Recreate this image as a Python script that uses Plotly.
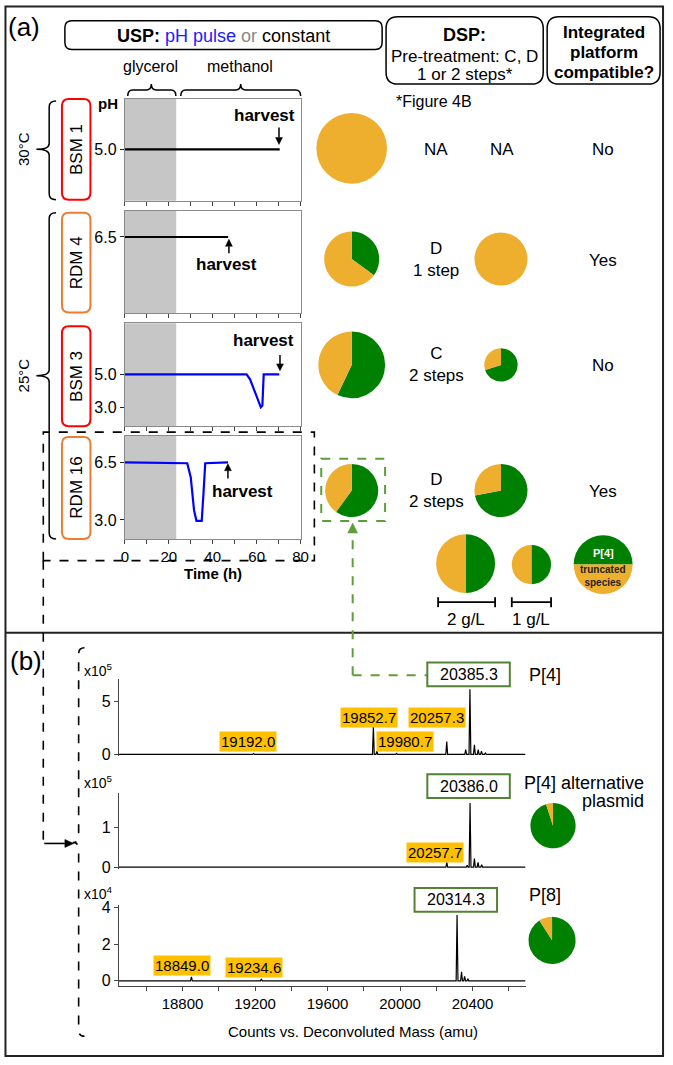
import math
import plotly.graph_objects as go

W, H = 673, 1065
FONT = "Liberation Sans, Arial, sans-serif"
ORANGE = "#EEAE2E"
GREEN = "#008000"
LABEL_OR = "#FFC000"
BOXGREEN = "#548235"
DASHGREEN = "#5E9E3A"

# ---------------- data ----------------
# pH profiles (time h, pH)
t_bsm1 = [0, 70.5]
ph_bsm1 = [5.0, 5.0]
t_rdm4 = [0, 47]
ph_rdm4 = [6.5, 6.5]
t_bsm3 = [0, 55.4, 57, 58.5, 60, 61.3, 61.9, 62.6, 63.2, 70.3]
ph_bsm3 = [5.0, 5.0, 4.7, 4.2, 3.7, 3.3, 3.0, 3.1, 5.0, 5.0]
t_rdm16 = [0, 28.4, 30, 31.5, 32.6, 35.0, 35.8, 36.6, 47]
ph_rdm16 = [6.5, 6.45, 5.6, 3.6, 2.95, 2.95, 4.6, 6.45, 6.5]
glycerol_end = 23.4

strains = ["BSM 1", "RDM 4", "BSM 3", "RDM 16"]
ph_ticks = [[5.0], [6.5], [5.0, 3.0], [6.5, 3.0]]
pretreat = ["NA", "D<br>1 step", "C<br>2 steps", "D<br>2 steps"]
compatible = ["No", "Yes", "No", "Yes"]
# pie: % P[4] (green) vs truncated (orange); size ~ titre
usp_green = [0, 35, 57, 60]
usp_radius = [36, 28, 34, 27]
dsp_green = [None, 0, 70, 72]
dsp_radius = [None, 27, 17, 27]

# deconvoluted mass spectra (amu, counts)
p4_mass = [19192.0, 19852.7, 19872, 19980.7, 20257.3, 20362, 20385.3, 20410, 20431, 20449, 20470]
p4_int = [0.08, 2.6, 0.3, 0.1, 1.2, 0.45, 6.1, 0.9, 0.45, 0.3, 0.12]          # x1e5
alt_mass = [20257.7, 20370, 20386.0, 20410, 20430, 20450]
alt_int = [0.12, 0.05, 1.62, 0.22, 0.12, 0.06]                                  # x1e5
p8_mass = [18849.0, 19234.6, 20314.3, 20339, 20356, 20374]
p8_int = [0.22, 0.1, 3.6, 0.5, 0.25, 0.12]                                      # x1e4
alt_orange = 5
p8_orange = 9

# ---------------- helpers ----------------
def X(p):
    return p / W

def Y(p):
    return 1 - p / H

shapes, ann = [], []

def line(x0, y0, x1, y1, color="black", width=1.5, dash=None):
    shapes.append(dict(type="line", xref="paper", yref="paper", x0=X(x0), y0=Y(y0), x1=X(x1), y1=Y(y1),
                       line=dict(color=color, width=width, dash=dash)))

def path(d, color="black", width=1.5, dash=None, fill=None):
    s = dict(type="path", xref="paper", yref="paper", path=d, line=dict(color=color, width=width, dash=dash))
    if fill:
        s["fillcolor"] = fill
    shapes.append(s)

def P(x, y):
    return f"{X(x):.5f},{Y(y):.5f}"

def rrect(x0, y0, x1, y1, r=8, color="black", width=1.5):
    d = (f"M {P(x0+r,y0)} L {P(x1-r,y0)} Q {P(x1,y0)} {P(x1,y0+r)} L {P(x1,y1-r)} "
         f"Q {P(x1,y1)} {P(x1-r,y1)} L {P(x0+r,y1)} Q {P(x0,y1)} {P(x0,y1-r)} "
         f"L {P(x0,y0+r)} Q {P(x0,y0)} {P(x0+r,y0)} Z")
    path(d, color, width)

def vbrace(xe, xm, xt, y0, y1, ym, r=6, dash=None, width=1.5):
    d = (f"M {P(xe,y0)} Q {P(xm,y0)} {P(xm,y0+r)} L {P(xm,ym-r)} Q {P(xm,ym)} {P(xt,ym)} "
         f"Q {P(xm,ym)} {P(xm,ym+r)} L {P(xm,y1-r)} Q {P(xm,y1)} {P(xe,y1)}")
    path(d, width=width, dash=dash)

def hbrace(x0, x1, xm, ye, yl, yt, r=5):
    d = (f"M {P(x0,ye)} Q {P(x0,yl)} {P(x0+r,yl)} L {P(xm-r,yl)} Q {P(xm,yl)} {P(xm,yt)} "
         f"Q {P(xm,yl)} {P(xm+r,yl)} L {P(x1-r,yl)} Q {P(x1,yl)} {P(x1,ye)}")
    path(d)

def txt(x, y, s, size=17, color="black", bold=False, angle=0, xanchor="center", bg=None, pad=1):
    a = dict(x=X(x), y=Y(y), xref="paper", yref="paper", text=(f"<b>{s}</b>" if bold else s),
             showarrow=False, xanchor=xanchor, yanchor="middle", textangle=angle,
             font=dict(size=size, color=color, family=FONT))
    if bg:
        a["bgcolor"] = bg
        a["borderpad"] = pad
    ann.append(a)

def arrow(xh, yh, xt, yt, color="black", width=1.5, size=7, hw=3.5, dash=None):
    L = math.hypot(xh - xt, yh - yt)
    ux, uy = (xh - xt) / L, (yh - yt) / L
    bx, by = xh - ux * size, yh - uy * size
    line(xt, yt, bx, by, color, width, dash)
    px, py = -uy, ux
    path(f"M {P(xh,yh)} L {P(bx+px*hw,by+py*hw)} L {P(bx-px*hw,by-py*hw)} Z",
         color=color, width=0.5, fill=color)

fig = go.Figure()

# ---------------- panel (a): pH plots ----------------
ph_rows = [(95, 198), (208, 312), (322, 426), (436, 540)]
series = [(t_bsm1, ph_bsm1, "black"), (t_rdm4, ph_rdm4, "black"),
          (t_bsm3, ph_bsm3, "#0000FF"), (t_rdm16, ph_rdm16, "#0000FF")]
layout_axes = {}
for i, ((y0, y1), (tt, pp, col)) in enumerate(zip(ph_rows, series)):
    n = i + 1
    sfx = "" if n == 1 else str(n)
    fig.add_trace(go.Scatter(x=tt, y=pp, mode="lines", line=dict(color=col, width=2.2),
                             xaxis=f"x{sfx}", yaxis=f"y{sfx}", showlegend=False, hoverinfo="skip"))
    last = (n == 4)
    layout_axes[f"xaxis{sfx}"] = dict(
        domain=[X(123), X(302)], range=[0, 80], anchor=f"y{sfx}",
        tickmode="linear", tick0=0, dtick=20,
        minor=dict(tick0=0, dtick=10, ticks="outside", ticklen=4, tickcolor="#444", showgrid=False),
        showticklabels=last, ticks="outside", ticklen=4, tickcolor="#444",
        showline=True, mirror=True, linecolor="#8a8a8a", linewidth=1,
        showgrid=False, zeroline=False, tickfont=dict(size=15, family=FONT, color="black"))
    layout_axes[f"yaxis{sfx}"] = dict(
        domain=[Y(y1), Y(y0)], range=[1.85, 8.1], anchor=f"x{sfx}",
        tickvals=ph_ticks[i], ticktext=[f"{v:.1f}" for v in ph_ticks[i]],
        ticks="outside", ticklen=4, tickcolor="#222",
        showline=True, mirror=True, linecolor="#8a8a8a", linewidth=1,
        showgrid=False, zeroline=False, tickfont=dict(size=16, family=FONT, color="black"))
    shapes.append(dict(type="rect", xref=f"x{sfx}", yref=f"y{sfx} domain", x0=0, x1=glycerol_end,
                       y0=0, y1=1, fillcolor="#C6C6C6", line=dict(width=0), layer="below"))

# ---------------- panel (b): spectra ----------------
MR = [18449, 20692]

def spectrum(masses, ints, w=5):
    xs, ys = [MR[0]], [0]
    for m, h in sorted(zip(masses, ints)):
        xs += [m - w, m, m + w]
        ys += [0, h, 0]
    xs.append(MR[1]); ys.append(0)
    return xs, ys

spec_rows = [(682, 760, [-0.19, 7.04], [0, 5]), (797, 874, [-0.05, 1.875], [0, 1]),
             (910, 992, [-0.27, 4.16], [0, 2, 4])]
spec_data = [(p4_mass, p4_int), (alt_mass, alt_int), (p8_mass, p8_int)]
for j, ((y0, y1, yr, yt), (mm, ii)) in enumerate(zip(spec_rows, spec_data)):
    n = j + 5
    xs, ys = spectrum(mm, ii)
    fig.add_trace(go.Scatter(x=xs, y=ys, mode="lines", line=dict(color="black", width=1.2),
                             xaxis=f"x{n}", yaxis=f"y{n}", showlegend=False, hoverinfo="skip"))
    last = (j == 2)
    xa = dict(domain=[X(117), X(531)], range=MR, anchor=f"y{n}", showgrid=False, zeroline=False)
    if last:
        xa.update(tickmode="linear", tick0=18800, dtick=400, tickformat="d",
                  ticks="outside", ticklen=4, tickcolor="#444",
                  minor=dict(tick0=18600, dtick=200, ticks="outside", ticklen=4, tickcolor="#444", showgrid=False),
                  showline=True, linecolor="#444", linewidth=1,
                  tickfont=dict(size=15, family=FONT, color="black"))
    else:
        xa.update(showticklabels=False, ticks="", showline=False)
    layout_axes[f"xaxis{n}"] = xa
    layout_axes[f"yaxis{n}"] = dict(
        domain=[Y(y1), Y(y0)], range=yr, anchor=f"x{n}", tickvals=yt,
        ticks="outside", ticklen=4, tickcolor="#444", showline=True, linecolor="#444",
        linewidth=1, showgrid=False, zeroline=False,
        tickfont=dict(size=16, family=FONT, color="black"))

# ---------------- pies ----------------
def pie(cx, cy, r, green, rotation=0):
    fig.add_trace(go.Pie(values=[green, 100 - green], marker=dict(colors=[GREEN, ORANGE], line=dict(width=0)),
                         sort=False, direction="clockwise", rotation=rotation, textinfo="none",
                         hoverinfo="skip", showlegend=False,
                         domain=dict(x=[X(cx - r), X(cx + r)], y=[Y(cy + r), Y(cy - r)])))

row_y = [145, 257, 364, 491]
for i in range(4):
    pie(354, row_y[i], usp_radius[i], usp_green[i])
    if dsp_green[i] is not None:
        pie(506, row_y[i], dsp_radius[i], dsp_green[i])
pie(470, 565, 30, 50)
pie(537, 566, 20, 50)
pie(610, 566, 30, 50, rotation=-90)
pie(559, 830, 23, 100 - alt_orange)
pie(558, 946, 24, 100 - p8_orange)

# ---------------- frame and boxes ----------------
shapes.append(dict(type="rect", xref="paper", yref="paper", x0=X(1.5), x1=X(671), y0=Y(1063), y1=Y(1.5),
                   line=dict(color="#222", width=2)))
line(1.5, 635, 671, 635, "#222", 2)
rrect(62, 16, 385, 45, 7)
rrect(389, 12, 549, 80, 12)
rrect(553, 12, 668, 80, 12)
box_cols = ["#FF0000", "#ED7D31", "#FF0000", "#ED7D31"]
box_ys = [(95, 197), (210, 311), (325, 426), (437, 540)]
for (y0, y1), c, s in zip(box_ys, box_cols, strains):
    rrect(59, y0, 88, y1, 7, c, 2)
    txt(74, (y0 + y1) / 2, s, 17, angle=-90)

vbrace(53, 46, 33, 97, 197, 146)
vbrace(53, 46, 33, 210, 540, 375)
hbrace(126, 175, 150, 92, 86, 80)
hbrace(180, 302, 241, 92, 86, 80)

# dashed selection around RDM 16 and link to (b)
path(f"M {P(40,562)} L {P(40,432)} L {P(316,432)} L {P(316,562)} Z", width=1.6, dash="dash")
line(40, 562, 40, 848, width=1.6, dash="dash")
arrow(71, 848, 41, 848, width=1.6, size=9, hw=4)
vbrace(82, 76, 70, 650, 1043, 847, r=6, dash="dash", width=1.6)

# green dashed box and link
path(f"M {P(323,459)} L {P(388,459)} L {P(388,522)} L {P(323,522)} Z", color=DASHGREEN, width=2, dash="dash")
line(355, 678, 431, 678, DASHGREEN, 2, "dash")
arrow(355, 524, 355, 678, DASHGREEN, 2, size=10, hw=5, dash="dash")

# scale bars
for x0, x1 in [(442, 500), (517, 557)]:
    line(x0, 604, x1, 604, width=1.8)
    line(x0, 599, x0, 609, width=1.8)
    line(x1, 599, x1, 609, width=1.8)

# green boxes in (b)
for x0, y0, x1, y1 in [(431, 665, 515, 689), (431, 778, 515, 802), (418, 893, 502, 917)]:
    shapes.append(dict(type="rect", xref="paper", yref="paper", x0=X(x0), x1=X(x1), y0=Y(y1), y1=Y(y0),
                       line=dict(color=BOXGREEN, width=2), fillcolor="white"))

# ---------------- texts ----------------
txt(20, 22, "(a)", 26)
txt(22, 663, "(b)", 26)
txt(223, 31, "<b>USP:</b> <span style='color:#1a1aff'>pH pulse</span> <span style='color:#888'>or</span> constant", 18)
txt(469, 30, "DSP:", 18, bold=True)
txt(469, 52, "Pre-treatment: C, D", 17)
txt(469, 70, "1 or 2 steps*", 17)
txt(611, 28, "Integrated", 17, bold=True)
txt(611, 48, "platform", 17, bold=True)
txt(611, 68, "compatible?", 17, bold=True)
txt(149, 62, "glycerol", 16)
txt(240, 62, "methanol", 16)
txt(106, 100, "pH", 15, bold=True)
txt(20, 146, "30°C", 15, angle=-90)
txt(20, 375, "25°C", 15, angle=-90)
txt(213, 575, "Time (h)", 15, bold=True)
txt(397, 98, "*Figure 4B", 16, xanchor="left")

txt(265, 112, "harvest", 17, bold=True); arrow(280, 141, 280, 124)
txt(227, 262, "harvest", 17, bold=True); arrow(229, 237, 229, 251)
txt(264, 339, "harvest", 17, bold=True); arrow(281, 370, 281, 354)
txt(243, 492, "harvest", 17, bold=True); arrow(228, 464, 228, 479)

for i in range(4):
    txt(440, row_y[i] + (1 if i == 0 else 0), pretreat[i], 17)
    txt(610, row_y[i] + 1, compatible[i], 17)
txt(507, 146, "NA", 17)
txt(470, 621, "2 g/L", 17)
txt(537, 621, "1 g/L", 17)
txt(610, 554, "P[4]", 11, color="white", bold=True)
txt(610, 578, "truncated<br>species", 10, color="#222", bold=True)

txt(96, 673, "x10<sup>5</sup>", 14)
txt(96, 786, "x10<sup>5</sup>", 14)
txt(96, 898, "x10<sup>4</sup>", 14)
txt(473, 677, "20385.3", 16)
txt(473, 790, "20386.0", 16)
txt(460, 905, "20314.3", 16)
txt(551, 678, "P[4]", 18)
txt(654, 787, "P[4] alternative", 18, xanchor="right")
txt(654, 805, "plasmid", 18, xanchor="right")
txt(551, 900, "P[8]", 18)
for x, y, s in [(248, 745, "19192.0"), (372, 721, "19852.7"), (441, 721, "20257.3"),
                (408, 745, "19980.7"), (439, 857, "20257.7"), (181, 971, "18849.0"),
                (255, 973, "19234.6")]:
    txt(x, y, s, 15, bg=LABEL_OR, pad=1)
txt(355, 1038, "Counts vs. Deconvoluted Mass (amu)", 15)

fig.update_layout(width=W, height=H, margin=dict(l=0, r=0, t=0, b=0),
                  paper_bgcolor="white", plot_bgcolor="white",
                  shapes=shapes, annotations=ann, **layout_axes)
fig.write_html("out.html", config={"displayModeBar": False, "staticPlot": True},
               post_script="document.body.style.margin='0';document.body.style.overflow='hidden';")
